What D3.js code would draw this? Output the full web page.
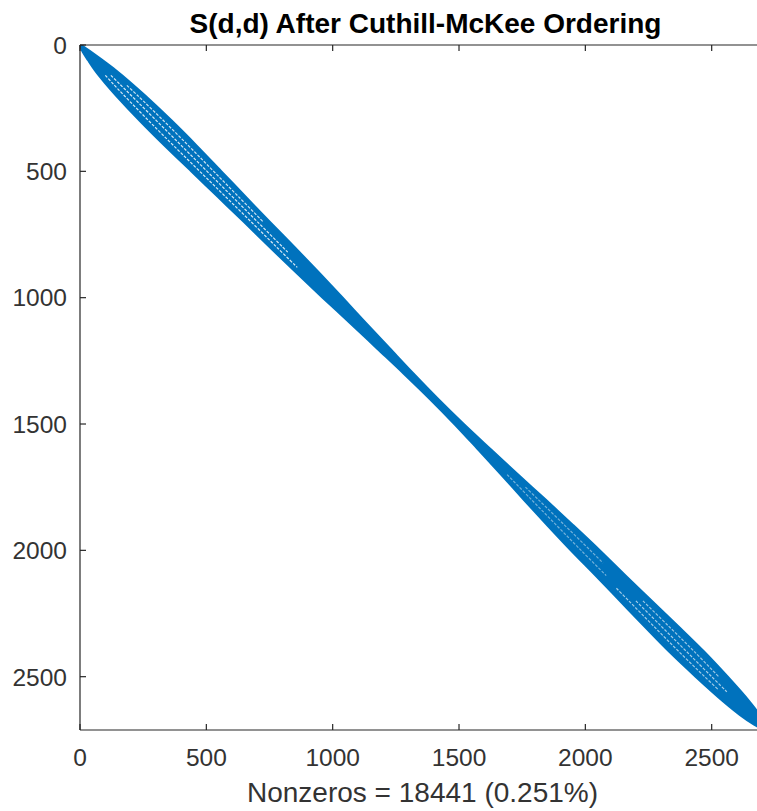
<!DOCTYPE html>
<html>
<head>
<meta charset="utf-8">
<script src="https://cdn.jsdelivr.net/npm/d3@7"></script>
<style>
  html, body { margin: 0; padding: 0; background: #fff; }
  svg { display: block; }
  text { font-family: "Liberation Sans", Arial, Helvetica, sans-serif; }
</style>
</head>
<body>
<script>
// ---- data ----
const matrixSize = 2710;
const nonzeros = 18441;
const titleText = "S(d,d) After Cuthill-McKee Ordering";
const xTicks = [0, 500, 1000, 1500, 2000, 2500];
const yTicks = [0, 500, 1000, 1500, 2000, 2500];
// sampled rows along the diagonal and the half bandwidth (in columns) of the nonzero band there
const bandRows = [0, 25, 60, 100, 150, 200, 300, 400, 500, 600, 700, 800, 900, 1000, 1100, 1200, 1300, 1400, 1500, 1600, 1700, 1800, 1900, 2000, 2100, 2200, 2300, 2400, 2500, 2600, 2650, 2690, 2710];
const bandHalf = [3, 14, 27, 40, 50, 56, 62, 62, 58, 54, 50, 48, 44, 38, 30, 24, 18, 15, 17, 24, 32, 42, 50, 56, 58, 62, 66, 68, 62, 50, 38, 20, 3];
// thin empty gaps inside the band (relative position across the band, -1..1)
const gapStart = [120, 120, 160, 1700, 1750, 2150, 2200, 2200];
const gapEnd = [880, 820, 700, 2100, 2050, 2550, 2560, 2500];
const gapFrac = [-0.45, 0.05, 0.5, -0.3, 0.35, -0.45, 0.0, 0.45];
const gapOpacity = [0.85, 0.85, 0.8, 0.45, 0.45, 0.65, 0.65, 0.6];

// ---- layout ----
const W = 757, H = 811;
const mLeft = 80, mTop = 45, side = 685;
const blue = "#0072BD";
const axisColor = "#262626";

const svg = d3.select("body").append("svg").attr("width", W).attr("height", H);

const x = d3.scaleLinear().domain([0, matrixSize + 1]).range([mLeft, mLeft + side]);
const y = d3.scaleLinear().domain([0, matrixSize + 1]).range([mTop, mTop + side]);

const band = bandRows.map((r, i) => ({ r, b: bandHalf[i] }));
const bandAt = r => {
  const i = d3.bisectLeft(bandRows, r);
  if (i <= 0) return bandHalf[0];
  if (i >= bandRows.length) return bandHalf[bandHalf.length - 1];
  const r0 = bandRows[i - 1], r1 = bandRows[i];
  const t = (r - r0) / (r1 - r0);
  return bandHalf[i - 1] * (1 - t) + bandHalf[i] * t;
};

const defs = svg.append("defs");
defs.append("filter").attr("id", "soft").append("feGaussianBlur").attr("stdDeviation", 0.45);
defs.append("clipPath").attr("id", "plotclip").append("rect")
  .attr("x", mLeft).attr("y", mTop).attr("width", side).attr("height", side);

const plot = svg.append("g").attr("clip-path", "url(#plotclip)");

const area = d3.area()
  .curve(d3.curveCatmullRom)
  .y(d => y(d.r))
  .x0(d => x(Math.max(0, d.r - d.b)))
  .x1(d => x(Math.min(matrixSize, d.r + d.b)));

plot.append("path")
  .datum(band)
  .attr("d", area)
  .attr("fill", blue)
  .attr("stroke", blue)
  .attr("stroke-width", 2.6)
  .attr("stroke-linejoin", "round")
  .attr("filter", "url(#soft)");

// white gaps inside the band
const gapLine = d3.line().curve(d3.curveCatmullRom).x(d => x(d.c)).y(d => y(d.r));
gapStart.forEach((s, k) => {
  const rows = bandRows.filter(r => r > s && r < gapEnd[k]);
  const pts = [s, ...rows, gapEnd[k]].map(r => ({ r, c: r + gapFrac[k] * bandAt(r) }));
  plot.append("path")
    .datum(pts)
    .attr("d", gapLine)
    .attr("fill", "none")
    .attr("stroke", "#ffffff")
    .attr("stroke-opacity", gapOpacity[k])
    .attr("stroke-width", 1.2)
    .attr("stroke-dasharray", "3,1.5");
});

// ---- axes (box, ticks inward) ----
const ax = svg.append("g");
const tickLen = 6;
const hline = (x1, x2, yy) => ax.append("line").attr("x1", x1).attr("x2", x2).attr("y1", yy).attr("y2", yy)
  .attr("stroke", axisColor).attr("stroke-width", 1.2);
const vline = (xx, y1, y2) => ax.append("line").attr("x1", xx).attr("x2", xx).attr("y1", y1).attr("y2", y2)
  .attr("stroke", axisColor).attr("stroke-width", 1.2);
hline(mLeft, mLeft + side, mTop);
hline(mLeft, mLeft + side, mTop + side);
vline(mLeft, mTop, mTop + side);
vline(mLeft + side, mTop, mTop + side);

xTicks.forEach(t => {
  const px = x(t);
  vline(px, mTop + side, mTop + side - tickLen);
  vline(px, mTop, mTop + tickLen);
  ax.append("text").attr("x", px).attr("y", 766).attr("text-anchor", "middle")
    .attr("font-size", 24.5).attr("fill", "#333").text(t);
});
yTicks.forEach(t => {
  const py = y(t);
  hline(mLeft, mLeft + tickLen, py);
  hline(mLeft + side, mLeft + side - tickLen, py);
  ax.append("text").attr("x", 67).attr("y", py).attr("dy", "0.36em").attr("text-anchor", "end")
    .attr("font-size", 24.5).attr("fill", "#333").text(t);
});

// title and x label
svg.append("text").attr("x", mLeft + side / 2 + 3).attr("y", 33).attr("text-anchor", "middle")
  .attr("font-size", 28).attr("font-weight", "bold").attr("fill", "#000").text(titleText);
const pct = (100 * nonzeros / (matrixSize * matrixSize)).toFixed(3);
svg.append("text").attr("x", mLeft + side / 2).attr("y", 802).attr("text-anchor", "middle")
  .attr("font-size", 28).attr("fill", "#333").text(`Nonzeros = ${nonzeros} (${pct}%)`);
</script>
</body>
</html>
